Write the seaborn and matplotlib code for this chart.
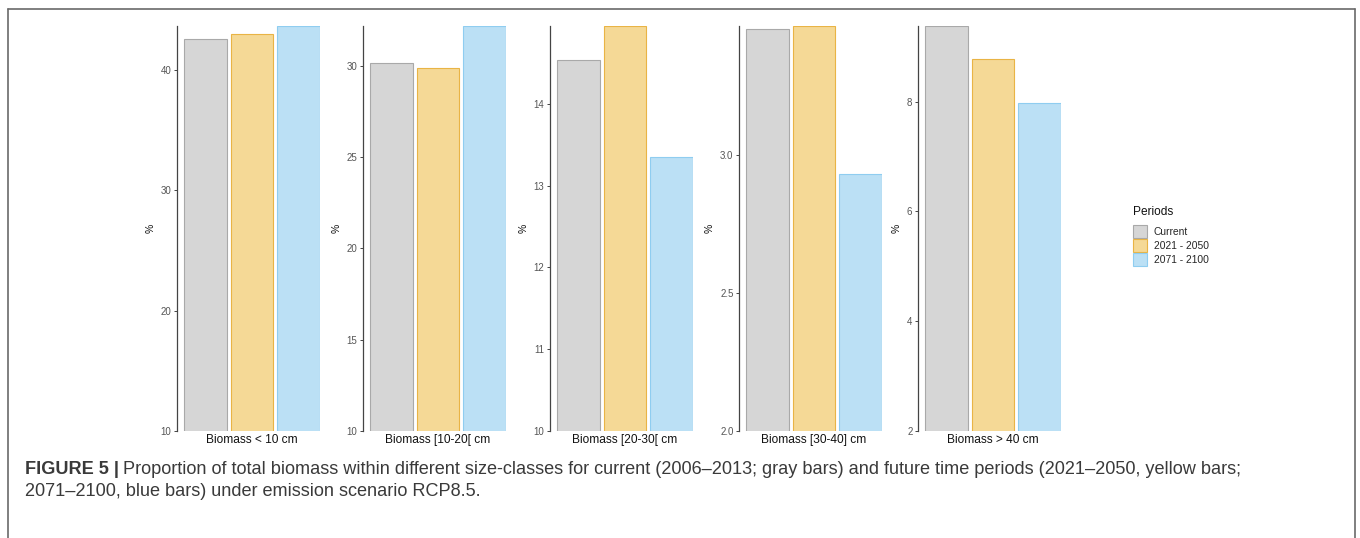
import pandas as pd
import matplotlib
matplotlib.use("Agg")
import matplotlib.pyplot as plt
import seaborn as sns
from matplotlib.patches import Patch
from matplotlib.lines import Line2D

# data
size_classes = ["Biomass < 10 cm", "Biomass [10-20[ cm", "Biomass [20-30[ cm",
                "Biomass [30-40] cm", "Biomass > 40 cm"]
periods = ["Current", "2021 - 2050", "2071 - 2100"]
current = [42.55, 30.15, 14.53, 3.456, 9.38]
p2021_2050 = [43.0, 29.9, 14.95, 3.468, 8.78]
p2071_2100 = [43.65, 32.19, 13.35, 2.932, 7.97]
y_bottom = [10, 10, 10, 2.0, 2]
y_ticks = [[10, 20, 30, 40], [10, 15, 20, 25, 30], [10, 11, 12, 13, 14],
           [2.0, 2.5, 3.0], [2, 4, 6, 8]]
y_ticklabels = [["10", "20", "30", "40"], ["10", "15", "20", "25", "30"],
                ["10", "11", "12", "13", "14"], ["2.0", "2.5", "3.0"],
                ["2", "4", "6", "8"]]

fills = ["#d6d6d6", "#f5d996", "#bbe0f5"]
edges = ["#a9a9a9", "#e9b445", "#8fcdf0"]

W, H = 1360, 538


def fx(px):
    return px / W


def fy(py):
    return 1 - py / H


def main():
    sns.set_theme(style="white")
    plt.rcParams["font.family"] = ["Liberation Sans", "DejaVu Sans"]

    rows = []
    for i, sc in enumerate(size_classes):
        for p, vals in zip(periods, [current, p2021_2050, p2071_2100]):
            rows.append({"size": sc, "period": p, "value": vals[i]})
    df = pd.DataFrame(rows)

    fig = plt.figure(figsize=(W / 100, H / 100), dpi=100)

    lefts = [177, 363, 550, 739, 918]
    top, bottom = 26, 431
    aw = 143
    for i, sc in enumerate(size_classes):
        ax = fig.add_axes([fx(lefts[i]), fy(bottom), fx(aw), (bottom - top) / H])
        sub = df[df["size"] == sc]
        sns.barplot(data=sub, x="size", y="value", hue="period", hue_order=periods,
                    palette=fills, saturation=1, width=0.8, gap=0.086,
                    legend=False, ax=ax)
        for cont, ec in zip(ax.containers, edges):
            for bar in cont:
                bar.set_edgecolor(ec)
                bar.set_linewidth(0.8)
        ax.set_xlim(-0.429, 0.3885)
        ax.set_ylim(y_bottom[i], max(sub["value"]))
        ax.set_yticks(y_ticks[i])
        ax.set_yticklabels(y_ticklabels[i])
        for s in ["top", "right", "bottom"]:
            ax.spines[s].set_visible(False)
        ax.spines["left"].set_color("#444444")
        ax.spines["left"].set_linewidth(0.9)
        ax.tick_params(axis="y", which="both", left=True, length=2.5, width=0.7,
                       color="#444444", labelsize=7, labelcolor="#555555", pad=1.5)
        ax.tick_params(axis="x", length=0, labelsize=8.6, labelcolor="#111111", pad=2)
        ax.set_xlabel("")
        ax.set_ylabel("%", fontsize=7.5, color="#111111", labelpad=4)
        ax.patch.set_alpha(0)

    # legend (title drawn separately to get the ggplot spacing)
    fig.text(fx(1133), fy(212), "Periods", fontsize=8.6, color="#111111",
             va="center", ha="left")
    handles = [Patch(facecolor=f, edgecolor=e, linewidth=0.8) for f, e in zip(fills, edges)]
    fig.legend(handles, periods, loc="upper left",
               bbox_to_anchor=(fx(1126), fy(218)), frameon=False, fontsize=7.4,
               handlelength=1.3, handleheight=1.6,
               handletextpad=0.68, labelspacing=0.05, borderpad=0.2)

    # frame around figure (open at the bottom)
    frame_c = "#6a6a6a"
    fig.add_artist(Line2D([fx(8), fx(1355)], [fy(9), fy(9)], color=frame_c, lw=1.2))
    fig.add_artist(Line2D([fx(8), fx(8)], [fy(9), 0], color=frame_c, lw=1.2))
    fig.add_artist(Line2D([fx(1355), fx(1355)], [fy(9), 0], color=frame_c, lw=1.2))

    # caption
    cap_font = ["Liberation Sans", "DejaVu Sans"]
    cap_c = "#3a3a3a"
    bold = fig.text(fx(25), fy(469), "FIGURE 5 |", fontsize=13.1, fontweight="bold",
                    family=cap_font, color=cap_c, va="center", ha="left")
    fig.canvas.draw()
    bb = bold.get_window_extent()
    x_after = bb.x1 / fig.dpi / fig.get_figwidth() + fx(4)
    fig.text(x_after, fy(469),
             "Proportion of total biomass within different size-classes for current "
             "(2006\u20132013; gray bars) and future time periods (2021\u20132050, yellow bars;",
             fontsize=13.1, family=cap_font, color=cap_c, va="center", ha="left")
    fig.text(fx(25), fy(491),
             "2071\u20132100, blue bars) under emission scenario RCP8.5.",
             fontsize=13.1, family=cap_font, color=cap_c, va="center", ha="left")

    fig.savefig("out.png", dpi=100, facecolor="white")


if __name__ == "__main__":
    main()
